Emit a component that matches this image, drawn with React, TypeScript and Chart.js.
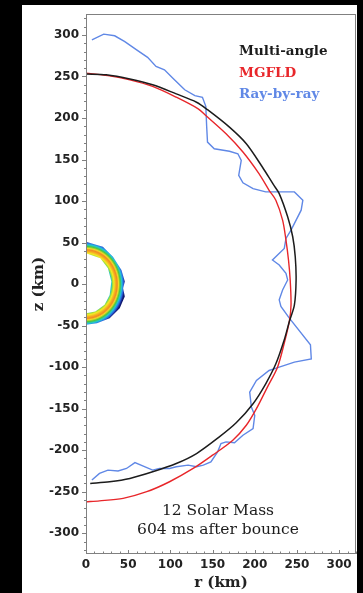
import { useEffect, useRef } from 'react';
import { Chart, registerables } from 'chart.js';

Chart.register(...registerables);

// ---- data (r in km, z in km) ----
const multiAngle: [number, number][] = [
  [0, 253], [24, 252], [52, 247], [79, 240], [107, 229], [131, 219], [144, 210], [170, 189],
  [190, 169], [209, 141], [222, 120], [229, 109], [239, 81], [245, 57], [248, 33], [249, 5],
  [247, -25], [241, -45], [235, -67], [225, -96], [213, -120], [198, -144], [178, -167],
  [158, -184], [131, -204], [107, -216], [79, -226], [52, -234], [28, -238], [5, -240],
];

const mgfld: [number, number][] = [
  [0, 254], [26, 251], [52, 246], [79, 238], [107, 225], [133, 211], [142, 203], [166, 181],
  [186, 159], [205, 133], [217, 113], [225, 101], [233, 77], [237, 53], [240, 29], [242, 5],
  [243, -25], [241, -45], [235, -71], [227, -100], [215, -124], [202, -150], [190, -170],
  [174, -188], [150, -206], [127, -222], [99, -238], [72, -250], [44, -258], [16, -261], [0, -262],
];

const rayByRay: [number, number][] = [
  [7, 294], [21, 301], [34, 299], [46, 292], [60, 282], [73, 273], [83, 262], [93, 258],
  [103, 248], [117, 234], [129, 227], [138, 225], [142, 214], [143, 190], [144, 171], [152, 163],
  [170, 160], [180, 157], [184, 149], [181, 131], [186, 122], [198, 115], [213, 111], [229, 111],
  [247, 111], [257, 101], [255, 89], [243, 65], [237, 55], [235, 43], [221, 29], [229, 23],
  [237, 13], [239, 5], [233, -7], [229, -19], [231, -27], [241, -41], [266, -73], [267, -90],
  [247, -94], [229, -100], [217, -104], [202, -116], [194, -130], [196, -148], [200, -158],
  [198, -174], [186, -182], [176, -191], [166, -190], [160, -192], [156, -202], [148, -214],
  [139, -218], [131, -220], [121, -218], [107, -220], [99, -222], [87, -222], [79, -224],
  [70, -220], [58, -215], [48, -222], [38, -225], [26, -224], [16, -228], [7, -236],
];

// contour ring (outer edge top->bottom, then inner edge bottom->top)
const ringOuter: [number, number][] = [
  [0, 51], [20, 45], [32, 33], [42, 17], [46, 3], [44, -5], [46, -15], [43, -22], [40, -29],
  [28, -41], [13, -47], [0, -49],
];
const ringInner: [number, number][] = [
  [0, -35], [11, -33], [22, -25], [28, -13], [30, 3], [26, 19], [17, 31], [0, 37],
];

const xTicks = [0, 50, 100, 150, 200, 250, 300];
const yTicks = [-300, -250, -200, -150, -100, -50, 0, 50, 100, 150, 200, 250, 300];
const xRange = [0, 320];
const yRange = [-325, 325];
const minorStep = 10;

const seriesNames = ['Multi-angle', 'MGFLD', 'Ray-by-ray'];
const seriesColors = ['#1c1c1c', '#e8262a', '#6088e6'];
const annotationLines = ['12 Solar Mass', '604 ms after bounce'];

const toXY = (pts: [number, number][]) => pts.map(([x, y]) => ({ x, y }));

const decorPlugin = {
  id: 'decor',
  beforeDatasetsDraw(chart: any) {
    const ctx = chart.ctx;
    const meta = chart.getDatasetMeta(0);
    const pts = meta.data;
    if (!pts || !pts.length) return;
    const xs = chart.scales.x;
    const ys = chart.scales.y;
    const a = chart.chartArea;
    const cx = xs.getPixelForValue(0);
    const cy = ys.getPixelForValue(0);
    ctx.save();
    ctx.beginPath();
    ctx.rect(a.left, a.top, a.right - a.left, a.bottom - a.top);
    ctx.clip();
    ctx.beginPath();
    pts.forEach((p: any, i: number) => {
      if (i === 0) ctx.moveTo(p.x, p.y);
      else ctx.lineTo(p.x, p.y);
    });
    ctx.closePath();
    ctx.translate(cx, cy);
    ctx.scale(1, 1.1);
    const g = ctx.createRadialGradient(0, 0, 25.5, 0, 0, 39);
    g.addColorStop(0, '#30c8c0');
    g.addColorStop(0.08, '#a0dc38');
    g.addColorStop(0.18, '#f4ea24');
    g.addColorStop(0.32, '#f6a820');
    g.addColorStop(0.42, '#f08a22');
    g.addColorStop(0.52, '#f2d826');
    g.addColorStop(0.64, '#4cc83c');
    g.addColorStop(0.76, '#22c4d8');
    g.addColorStop(0.87, '#2a70e4');
    g.addColorStop(0.96, '#1a2c9a');
    g.addColorStop(1, '#101a70');
    ctx.fillStyle = g;
    ctx.fill();
    ctx.restore();
  },
  afterDatasetsDraw(chart: any) {
    const ctx = chart.ctx;
    const a = chart.chartArea;
    const xs = chart.scales.x;
    const ys = chart.scales.y;
    ctx.save();
    // frame
    ctx.strokeStyle = '#808080';
    ctx.lineWidth = 1;
    ctx.strokeRect(Math.round(a.left) + 0.5, Math.round(a.top) + 0.5,
      Math.round(a.right - a.left) - 1, Math.round(a.bottom - a.top) - 1);
    // tick marks
    ctx.beginPath();
    for (let v = xRange[0]; v <= xRange[1]; v += minorStep) {
      const px = Math.round(xs.getPixelForValue(v)) + 0.5;
      const len = v % 50 === 0 ? 4 : 2.5;
      ctx.moveTo(px, a.bottom);
      ctx.lineTo(px, a.bottom - len);
    }
    for (let v = -320; v <= 320; v += minorStep) {
      const py = Math.round(ys.getPixelForValue(v)) + 0.5;
      const len = v % 50 === 0 ? 4 : 2;
      ctx.moveTo(a.left, py);
      ctx.lineTo(a.left - len, py);
    }
    ctx.stroke();
    // legend text
    ctx.font = 'bold 13.5px "DejaVu Serif"';
    ctx.textAlign = 'left';
    ctx.textBaseline = 'alphabetic';
    seriesNames.forEach((name, i) => {
      ctx.fillStyle = seriesColors[i];
      ctx.fillText(name, 239, 55 + i * 21.5);
    });
    // annotation
    ctx.font = '500 15.5px "DejaVu Serif"';
    ctx.fillStyle = '#1c1c1c';
    ctx.textAlign = 'center';
    annotationLines.forEach((t, i) => {
      ctx.fillText(t, 218, 515 + i * 18.5);
    });
    ctx.restore();
  },
};

export default function App() {
  const ref = useRef<HTMLCanvasElement>(null);
  useEffect(() => {
    document.body.style.margin = '0';
    const canvas = ref.current;
    if (!canvas) return;
    const tickFont = { family: '"DejaVu Sans"', weight: 'bold' as const, size: 12 };
    const titleFont = { family: '"DejaVu Serif"', weight: 'bold' as const, size: 15 };
    const chart = new Chart(canvas, {
      type: 'line',
      data: {
        datasets: [
          {
            label: 'contour',
            data: toXY([...ringOuter, ...ringInner]),
            showLine: false,
            pointRadius: 0,
            borderWidth: 0,
          },
          {
            label: seriesNames[0],
            data: toXY(multiAngle),
            borderColor: seriesColors[0],
            borderWidth: 1.5,
            pointRadius: 0,
            tension: 0.3,
            fill: false,
          },
          {
            label: seriesNames[1],
            data: toXY(mgfld),
            borderColor: seriesColors[1],
            borderWidth: 1.4,
            pointRadius: 0,
            tension: 0.3,
            fill: false,
          },
          {
            label: seriesNames[2],
            data: toXY(rayByRay),
            borderColor: seriesColors[2],
            borderWidth: 1.4,
            pointRadius: 0,
            tension: 0,
            fill: false,
          },
        ],
      },
      options: {
        animation: false,
        responsive: false,
        devicePixelRatio: 1,
        layout: { padding: { top: 14, right: 7, left: 0, bottom: 0 } },
        plugins: { legend: { display: false }, tooltip: { enabled: false } },
        scales: {
          x: {
            type: 'linear',
            min: xRange[0],
            max: xRange[1],
            afterBuildTicks: (s: any) => { s.ticks = xTicks.map((v) => ({ value: v })); },
            afterFit: (s: any) => { s.height = 39; },
            grid: { display: false, drawTicks: false },
            border: { display: false },
            ticks: { padding: 4, font: tickFont, color: '#222', maxRotation: 0, autoSkip: false },
            title: { display: true, text: 'r (km)', font: titleFont, color: '#222', padding: { top: 0, bottom: 1 } },
          },
          y: {
            type: 'linear',
            min: yRange[0],
            max: yRange[1],
            afterBuildTicks: (s: any) => { s.ticks = yTicks.map((v) => ({ value: v })); },
            afterFit: (s: any) => { s.width = 86; },
            grid: { display: false, drawTicks: false },
            border: { display: false },
            ticks: { padding: 7, font: tickFont, color: '#222', autoSkip: false },
            title: { display: true, text: 'z (km)', font: titleFont, color: '#222', padding: { top: 30, bottom: 0 } },
          },
        },
      },
      plugins: [decorPlugin],
    });
    return () => chart.destroy();
  }, []);
  return (
    <div style={{ position: 'relative', width: 363, height: 593, background: '#000', overflow: 'hidden' }}>
      <div style={{ position: 'absolute', left: 22, top: 5, width: 335, height: 588, background: '#fff' }} />
      <canvas ref={ref} width={363} height={593} style={{ position: 'absolute', left: 0, top: 0, width: 363, height: 593 }} />
    </div>
  );
}
